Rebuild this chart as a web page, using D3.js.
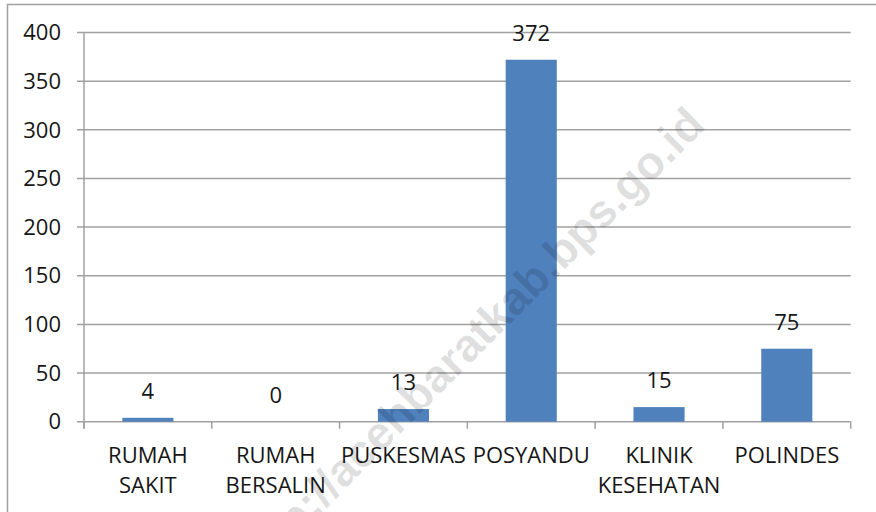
<!DOCTYPE html>
<html>
<head>
<meta charset="utf-8">
<script src="https://cdn.jsdelivr.net/npm/d3@7"></script>
<style>
  html, body { margin: 0; padding: 0; background: #fff; }
  svg { display: block; }
  text { font-family: "Open Sans", "Noto Sans", sans-serif; fill: #161616; }
</style>
</head>
<body>
<svg id="chart" width="876" height="512"></svg>
<script>
// ---- data ----
const categories = ["RUMAH SAKIT", "RUMAH BERSALIN", "PUSKESMAS", "POSYANDU", "KLINIK KESEHATAN", "POLINDES"];
const values = [4, 0, 13, 372, 15, 75];
const yTicks = [0, 50, 100, 150, 200, 250, 300, 350, 400];
const watermarkText = "http://acehbaratkab.bps.go.id";

// ---- layout ----
const svg = d3.select("#chart");
const W = 876, H = 512;
const plot = { left: 84, right: 850.7, top: 32.5, bottom: 421.7 };
const gridColor = "#a0a0a0";
const barColor = "#4F81BD";
const fontSize = 22;

// outer frame (extends beyond the visible area on right/bottom)
svg.append("path")
  .attr("d", `M7.5,${H + 5} L7.5,4.5 L${W + 5},4.5`)
  .attr("fill", "none").attr("stroke", gridColor).attr("stroke-width", 1.5);

const x = d3.scaleBand().domain(categories).range([plot.left, plot.right]).padding(0);
const y = d3.scaleLinear().domain([0, 400]).range([plot.bottom, plot.top]);

// gridlines
svg.append("g").selectAll("line").data(yTicks).join("line")
  .attr("x1", plot.left - 7).attr("x2", plot.right)
  .attr("y1", d => y(d)).attr("y2", d => y(d))
  .attr("stroke", gridColor).attr("stroke-width", 1.5);

// y axis line
svg.append("line")
  .attr("x1", plot.left).attr("x2", plot.left)
  .attr("y1", plot.top).attr("y2", plot.bottom + 7)
  .attr("stroke", gridColor).attr("stroke-width", 1.5);

// x axis ticks at category boundaries
const boundaries = categories.map(c => x(c)).concat([plot.right]);
svg.append("g").selectAll("line").data(boundaries).join("line")
  .attr("x1", d => d).attr("x2", d => d)
  .attr("y1", plot.bottom).attr("y2", plot.bottom + 7)
  .attr("stroke", gridColor).attr("stroke-width", 1.5);

// y tick labels
svg.append("g").selectAll("text").data(yTicks).join("text")
  .attr("x", plot.left - 23)
  .attr("y", d => y(d))
  .attr("dy", "0.35em")
  .attr("text-anchor", "end")
  .attr("font-size", fontSize)
  .text(d => d);

// bars
const barW = x.bandwidth() * 0.4;
svg.append("g").selectAll("rect").data(values).join("rect")
  .attr("x", (d, i) => x(categories[i]) + x.bandwidth() / 2 - barW / 2)
  .attr("width", barW)
  .attr("y", d => y(d))
  .attr("height", d => y(0) - y(d))
  .attr("fill", barColor);

// watermark
const wmEnd = [707, 127];
svg.append("text")
  .attr("transform", `translate(${wmEnd[0]},${wmEnd[1]}) rotate(-45)`)
  .attr("text-anchor", "end")
  .attr("font-size", 46)
  .attr("font-weight", "bold")
  .style("font-family", "'Liberation Sans', Arial, sans-serif")
  .style("fill", "#000")
  .style("fill-opacity", 0.13)
  .text(watermarkText);

// value labels
svg.append("g").selectAll("text").data(values).join("text")
  .attr("x", (d, i) => x(categories[i]) + x.bandwidth() / 2)
  .attr("y", d => y(d) - 18.7)
  .attr("text-anchor", "middle")
  .attr("font-size", fontSize)
  .text(d => d);

// category labels (wrapped on spaces)
const catG = svg.append("g").selectAll("text").data(categories).join("text")
  .attr("x", d => x(d) + x.bandwidth() / 2)
  .attr("y", 462.7)
  .attr("text-anchor", "middle")
  .attr("font-size", fontSize);
catG.each(function(d) {
  const t = d3.select(this);
  d.split(" ").forEach((w, i) => {
    t.append("tspan")
      .attr("x", x(d) + x.bandwidth() / 2)
      .attr("dy", i === 0 ? 0 : 30.5)
      .text(w);
  });
});
</script>
</body>
</html>
